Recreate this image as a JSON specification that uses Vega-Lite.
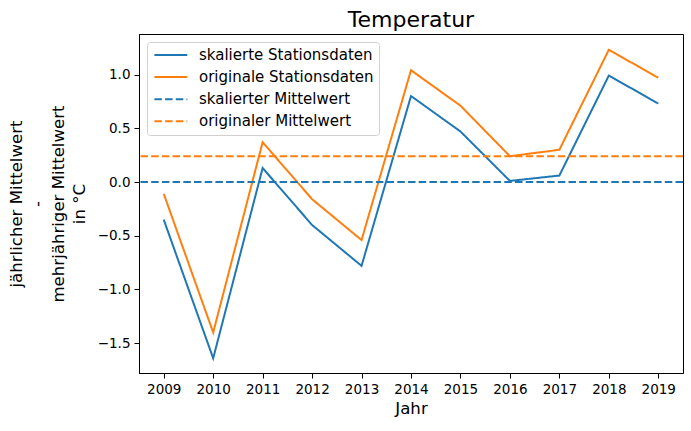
{
  "$schema": "https://vega.github.io/schema/vega-lite/v6.json",
  "autosize": "none",
  "width": 544,
  "height": 339,
  "padding": {"left": 139, "top": 34, "right": 8, "bottom": 58},
  "config": {
    "font": "DejaVu Sans",
    "view": {"stroke": "black", "strokeWidth": 1},
    "axis": {
      "domainColor": "black",
      "tickColor": "black",
      "labelColor": "black",
      "titleColor": "black",
      "labelFontSize": 13.5,
      "labelPadding": 4,
      "titleFontSize": 16.6,
      "titleFontWeight": "normal",
      "tickSize": 5,
      "grid": false
    }
  },
  "title": {
    "text": "Temperatur",
    "fontSize": 22,
    "fontWeight": "normal",
    "color": "black",
    "anchor": "middle",
    "offset": 2.5
  },
  "datasets": {
    "stationen": [
      {"jahr": 2009, "wert": -0.35, "reihe": "skalierte Stationsdaten"},
      {"jahr": 2010, "wert": -1.64, "reihe": "skalierte Stationsdaten"},
      {"jahr": 2011, "wert": 0.13, "reihe": "skalierte Stationsdaten"},
      {"jahr": 2012, "wert": -0.40, "reihe": "skalierte Stationsdaten"},
      {"jahr": 2013, "wert": -0.78, "reihe": "skalierte Stationsdaten"},
      {"jahr": 2014, "wert": 0.80, "reihe": "skalierte Stationsdaten"},
      {"jahr": 2015, "wert": 0.47, "reihe": "skalierte Stationsdaten"},
      {"jahr": 2016, "wert": 0.01, "reihe": "skalierte Stationsdaten"},
      {"jahr": 2017, "wert": 0.06, "reihe": "skalierte Stationsdaten"},
      {"jahr": 2018, "wert": 0.99, "reihe": "skalierte Stationsdaten"},
      {"jahr": 2019, "wert": 0.73, "reihe": "skalierte Stationsdaten"},
      {"jahr": 2009, "wert": -0.11, "reihe": "originale Stationsdaten"},
      {"jahr": 2010, "wert": -1.40, "reihe": "originale Stationsdaten"},
      {"jahr": 2011, "wert": 0.37, "reihe": "originale Stationsdaten"},
      {"jahr": 2012, "wert": -0.16, "reihe": "originale Stationsdaten"},
      {"jahr": 2013, "wert": -0.54, "reihe": "originale Stationsdaten"},
      {"jahr": 2014, "wert": 1.04, "reihe": "originale Stationsdaten"},
      {"jahr": 2015, "wert": 0.71, "reihe": "originale Stationsdaten"},
      {"jahr": 2016, "wert": 0.24, "reihe": "originale Stationsdaten"},
      {"jahr": 2017, "wert": 0.30, "reihe": "originale Stationsdaten"},
      {"jahr": 2018, "wert": 1.23, "reihe": "originale Stationsdaten"},
      {"jahr": 2019, "wert": 0.97, "reihe": "originale Stationsdaten"}
    ],
    "mittel": [
      {"wert": 0.0, "reihe": "skalierter Mittelwert"},
      {"wert": 0.24, "reihe": "originaler Mittelwert"}
    ]
  },
  "encoding": {
    "y": {
      "field": "wert",
      "type": "quantitative",
      "scale": {"domain": [-1.777, 1.377], "nice": false, "zero": false},
      "axis": {
        "values": [-1.5, -1, -0.5, 0, 0.5, 1],
        "format": ".1f",
        "title": ["jährlicher Mittelwert", "-", "mehrjähriger Mittelwert", "in °C"],
        "titleLineHeight": 21,
        "titlePadding": 10
      }
    },
    "color": {
      "field": "reihe",
      "type": "nominal",
      "scale": {
        "domain": ["skalierte Stationsdaten", "originale Stationsdaten", "skalierter Mittelwert", "originaler Mittelwert"],
        "range": ["#1f77b4", "#ff7f0e", "#1f77b4", "#ff7f0e"]
      },
      "legend": {
        "title": null,
        "orient": "top-left",
        "offset": 8,
        "padding": 5,
        "fillColor": "white",
        "strokeColor": "#d0d0d0",
        "cornerRadius": 3,
        "symbolType": "M-0.8,0L3.9,0",
        "symbolSize": 196,
        "symbolStrokeWidth": 2,
        "labelFontSize": 15,
        "labelColor": "black",
        "labelLimit": 400,
        "labelOffset": 31,
        "rowPadding": 6.1
      }
    },
    "strokeDash": {
      "field": "reihe",
      "type": "nominal",
      "scale": {
        "domain": ["skalierte Stationsdaten", "originale Stationsdaten", "skalierter Mittelwert", "originaler Mittelwert"],
        "range": [[1, 0], [1, 0], [7.5, 3.2], [7.5, 3.2]]
      },
      "legend": null
    }
  },
  "layer": [
    {
      "data": {"name": "stationen"},
      "mark": {"type": "line", "strokeWidth": 2},
      "encoding": {
        "x": {
          "field": "jahr",
          "type": "quantitative",
          "scale": {"domain": [2008.5, 2019.5], "nice": false, "zero": false},
          "axis": {
            "values": [2009, 2010, 2011, 2012, 2013, 2014, 2015, 2016, 2017, 2018, 2019],
            "format": "d",
            "title": "Jahr",
            "titlePadding": 5
          }
        }
      }
    },
    {
      "data": {"name": "mittel"},
      "mark": {"type": "rule", "strokeWidth": 2},
      "encoding": {}
    }
  ]
}
